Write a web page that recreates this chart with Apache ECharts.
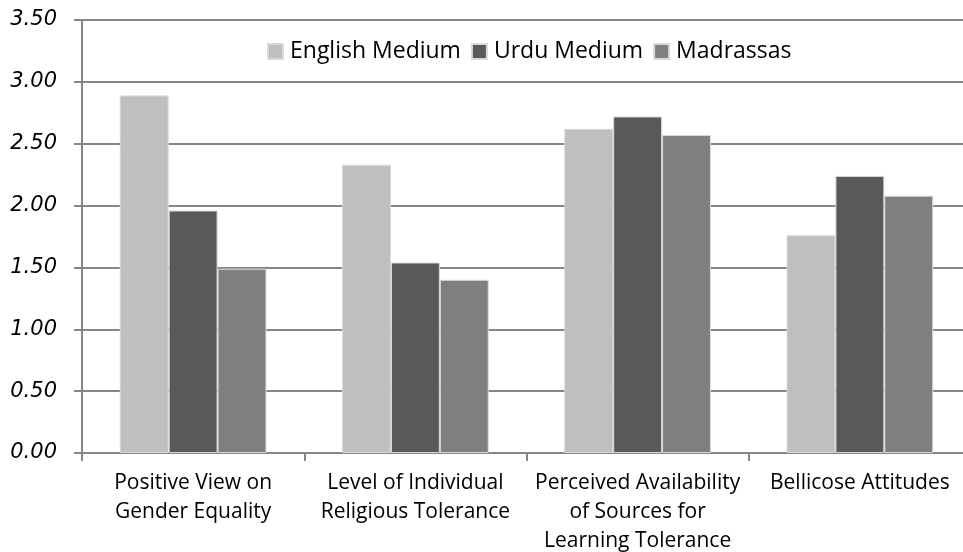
<!DOCTYPE html>
<html>
<head>
<meta charset="utf-8">
<script src="https://cdn.jsdelivr.net/npm/echarts@6/dist/echarts.min.js"></script>
<style>
  html, body { margin: 0; padding: 0; background: #ffffff; }
  #chart { width: 963px; height: 552px; }
</style>
</head>
<body>
<div id="chart"></div>
<script>
const categories = [
  "Positive View on\nGender Equality",
  "Level of Individual\nReligious Tolerance",
  "Perceived Availability\nof Sources for\nLearning Tolerance",
  "Bellicose Attitudes"
];
const seriesNames = ["English Medium", "Urdu Medium", "Madrassas"];
const englishMedium = [2.89, 2.33, 2.62, 1.76];
const urduMedium = [1.96, 1.54, 2.72, 2.24];
const madrassas = [1.49, 1.40, 2.57, 2.08];
const colors = ["#bfbfbf", "#595959", "#7f7f7f"];

const myChart = echarts.init(document.getElementById("chart"));
const mkSeries = (name, data, i) => ({
  name,
  type: "bar",
  data,
  barGap: 0,
  barCategoryGap: "34%",
  itemStyle: { color: colors[i], borderColor: "#d9d9d9", borderWidth: 1 }
});
const option = {
  animation: false,
  color: colors,
  legend: {
    top: 35,
    left: 262,
    itemWidth: 15,
    itemHeight: 15,
    itemGap: 10,
    icon: "rect",
    textStyle: { fontFamily: "Open Sans", fontSize: 23, color: "#000", padding: [0, 0, 0, 2] },
    data: seriesNames
  },
  grid: { left: 82, right: -8, top: 20, bottom: 99, outerBoundsMode: "none", containLabel: false },
  xAxis: {
    type: "category",
    data: categories,
    axisLine: { lineStyle: { color: "#868686", width: 2 } },
    axisTick: { show: true, length: 8, lineStyle: { color: "#868686", width: 2 } },
    axisLabel: {
      fontFamily: "Open Sans",
      fontSize: 21,
      color: "#000",
      lineHeight: 29,
      margin: 16,
      interval: 0
    }
  },
  yAxis: {
    type: "value",
    min: 0,
    max: 3.5,
    interval: 0.5,
    axisLine: { show: true, lineStyle: { color: "#868686", width: 2 } },
    axisTick: { show: true, length: 8, lineStyle: { color: "#868686", width: 2 } },
    splitLine: { lineStyle: { color: "#868686", width: 2 } },
    axisLabel: {
      fontFamily: "DejaVu Sans",
      fontStyle: "italic",
      fontSize: 21,
      color: "#000",
      margin: 25,
      formatter: v => v.toFixed(2)
    }
  },
  series: [
    mkSeries(seriesNames[0], englishMedium, 0),
    mkSeries(seriesNames[1], urduMedium, 1),
    mkSeries(seriesNames[2], madrassas, 2)
  ]
};
myChart.setOption(option);
</script>
</body>
</html>
